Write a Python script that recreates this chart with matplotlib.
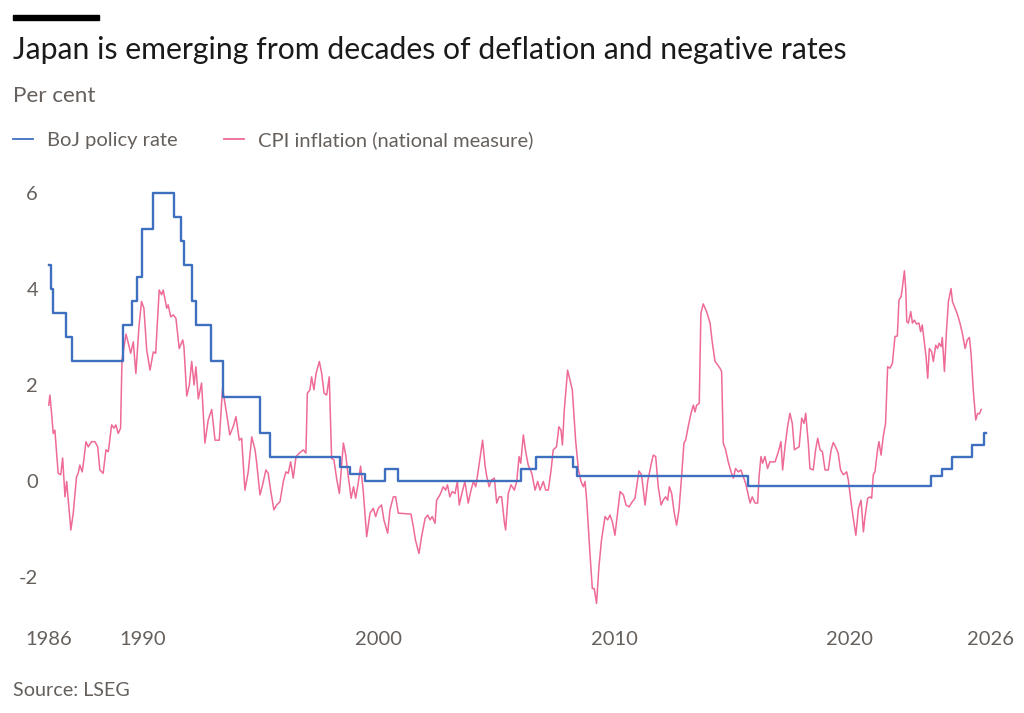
import matplotlib
matplotlib.use("Agg")
import matplotlib.pyplot as plt
from matplotlib.lines import Line2D
from matplotlib.patches import Rectangle


# ============================================================
#  データ
# ============================================================
# BoJ 政策金利：変更した時点と水準（ステップ）
rate_year = [1986.00, 1986.08, 1986.17, 1986.73, 1986.97, 1989.14, 1989.55, 1989.76,
             1989.98, 1990.44, 1991.33, 1991.60, 1991.75, 1992.08, 1992.25, 1992.87,
             1993.41, 1994.97, 1995.39, 1998.37, 1998.77, 1999.43, 2000.28, 2000.83,
             2006.05, 2006.69, 2008.28, 2008.45, 2015.70, 2023.46, 2023.93, 2024.35,
             2025.20, 2025.72, 2025.78]
rate_value = [4.5, 4.0, 3.5, 3.0, 2.5, 3.25, 3.75, 4.25,
              5.25, 6.0, 5.5, 5.0, 4.5, 3.75, 3.25, 2.5,
              1.75, 1.0, 0.5, 0.3, 0.15, 0.0, 0.25, 0.0,
              0.25, 0.5, 0.3, 0.1, -0.1, 0.1, 0.25, 0.5,
              0.75, 1.0, 1.0]

# CPI インフレ率（全国）
cpi_year = [
    1986.00, 1986.05, 1986.12, 1986.19, 1986.26, 1986.40, 1986.51, 1986.59, 1986.69, 1986.76, 1986.83, 1986.94,
    1987.04, 1987.18, 1987.25, 1987.32, 1987.42, 1987.49, 1987.58, 1987.68, 1987.82, 1987.96,
    1988.08, 1988.17, 1988.31, 1988.43, 1988.53, 1988.67, 1988.77, 1988.85, 1988.95,
    1989.05, 1989.11, 1989.28, 1989.38, 1989.48, 1989.59, 1989.70, 1989.83, 1989.94,
    1990.04, 1990.16, 1990.30, 1990.44, 1990.54, 1990.62, 1990.69, 1990.79, 1990.86,
    1991.01, 1991.07, 1991.18, 1991.29, 1991.40, 1991.54, 1991.69, 1991.74, 1991.86, 1991.97,
    1992.07, 1992.17, 1992.25, 1992.35, 1992.49, 1992.63, 1992.77, 1992.92,
    1993.06, 1993.24, 1993.38, 1993.55, 1993.69, 1993.83, 1993.95,
    1994.09, 1994.19, 1994.33, 1994.47, 1994.62, 1994.76, 1994.83, 1994.97,
    1995.08, 1995.22, 1995.32, 1995.42, 1995.56, 1995.68, 1995.82, 1995.96,
    1996.07, 1996.17, 1996.27, 1996.38, 1996.50, 1996.64, 1996.81, 1996.92, 1996.98,
    1997.09, 1997.16, 1997.26, 1997.35, 1997.49, 1997.59, 1997.69, 1997.80, 1997.91,
    1998.01, 1998.11, 1998.22, 1998.34, 1998.44, 1998.51, 1998.61, 1998.72, 1998.84, 1998.94,
    1999.03, 1999.14, 1999.24, 1999.35, 1999.50, 1999.64, 1999.78, 1999.88, 1999.99,
    2000.13, 2000.23, 2000.39, 2000.49, 2000.63, 2000.73, 2000.84,
    2001.38, 2001.48, 2001.57, 2001.72, 2001.83, 2001.98,
    2002.09, 2002.19, 2002.28, 2002.40, 2002.47, 2002.61, 2002.75, 2002.85, 2002.93,
    2003.03, 2003.13, 2003.25, 2003.35, 2003.43, 2003.56, 2003.67, 2003.81, 2003.93,
    2004.03, 2004.13, 2004.24, 2004.34, 2004.42, 2004.53, 2004.60, 2004.70, 2004.80, 2004.92,
    2005.02, 2005.12, 2005.23, 2005.35, 2005.40, 2005.51, 2005.63, 2005.77, 2005.87, 2005.97,
    2006.04, 2006.15, 2006.25, 2006.36, 2006.51, 2006.65, 2006.76, 2006.86,
    2007.00, 2007.10, 2007.21, 2007.33, 2007.42, 2007.56, 2007.66, 2007.75, 2007.81, 2007.89,
    2008.03, 2008.13, 2008.23, 2008.37, 2008.49, 2008.60, 2008.70, 2008.77, 2008.84, 2008.98,
    2009.08, 2009.16, 2009.26, 2009.36, 2009.47, 2009.62, 2009.73, 2009.83, 2009.93,
    2010.04, 2010.15, 2010.26, 2010.40, 2010.51, 2010.64, 2010.78, 2010.89, 2010.98,
    2011.06, 2011.17, 2011.32, 2011.43, 2011.60, 2011.67, 2011.77, 2011.88,
    2012.00, 2012.09, 2012.19, 2012.28, 2012.35, 2012.45, 2012.56, 2012.66, 2012.76, 2012.87, 2012.97,
    2013.04, 2013.15, 2013.27, 2013.37, 2013.44, 2013.51, 2013.62, 2013.69, 2013.79, 2013.93,
    2014.08, 2014.17, 2014.29, 2014.40, 2014.50, 2014.57, 2014.64, 2014.74, 2014.85, 2014.97,
    2015.07, 2015.16, 2015.28, 2015.39, 2015.49, 2015.59, 2015.70, 2015.78, 2015.87, 2015.99,
    2016.10, 2016.16, 2016.24, 2016.31, 2016.41, 2016.52, 2016.62, 2016.84, 2016.98,
    2017.09, 2017.16, 2017.26, 2017.37, 2017.47, 2017.57, 2017.66, 2017.75, 2017.86, 2017.97,
    2018.07, 2018.14, 2018.25, 2018.32, 2018.46, 2018.56, 2018.65, 2018.75, 2018.85, 2018.96,
    2019.10, 2019.22, 2019.31, 2019.41, 2019.52, 2019.62, 2019.74, 2019.88, 2019.95,
    2020.07, 2020.17, 2020.27, 2020.38, 2020.49, 2020.59, 2020.66, 2020.77, 2020.87, 2020.94,
    2021.01, 2021.08, 2021.19, 2021.25, 2021.34, 2021.43, 2021.53, 2021.62, 2021.72, 2021.82, 2021.93,
    2022.03, 2022.10, 2022.19, 2022.24, 2022.33, 2022.39, 2022.43, 2022.50, 2022.60, 2022.67, 2022.75, 2022.85, 2022.95,
    2023.02, 2023.09, 2023.18, 2023.25, 2023.32, 2023.39, 2023.49, 2023.56, 2023.66, 2023.74, 2023.80, 2023.89, 2023.94,
    2024.03, 2024.12, 2024.20, 2024.31, 2024.37, 2024.48, 2024.59, 2024.69, 2024.79, 2024.91,
    2025.00, 2025.09, 2025.16, 2025.26, 2025.36, 2025.44, 2025.52, 2025.59,
]
cpi_value = [
    1.58, 1.79, 1.41, 0.99, 1.06, 0.16, 0.13, 0.48, -0.33, -0.01, -0.40, -1.02,
    -0.67, 0.09, 0.16, 0.33, 0.19, 0.44, 0.82, 0.71, 0.82, 0.82,
    0.71, 0.23, 0.16, 0.65, 0.61, 1.17, 1.10, 1.17, 0.99,
    1.10, 2.52, 3.06, 2.87, 2.66, 2.90, 2.24, 3.21, 3.74,
    3.60, 2.73, 2.31, 2.69, 2.66, 3.35, 3.98, 3.88, 3.98,
    3.60, 3.67, 3.42, 3.46, 3.39, 2.76, 2.94, 2.80, 1.77, 2.00,
    2.49, 2.00, 2.38, 1.71, 2.04, 0.79, 1.27, 1.49,
    0.85, 0.85, 1.93, 1.41, 0.96, 1.13, 1.34,
    0.85, 0.89, -0.19, 0.19, 0.92, 0.65, 0.37, -0.29,
    -0.08, 0.23, 0.16, -0.19, -0.60, -0.50, -0.43, -0.01,
    0.19, 0.16, 0.40, 0.06, 0.51, 0.58, 0.65, 0.58, 1.83,
    1.90, 2.17, 1.90, 2.24, 2.49, 2.24, 1.83, 1.79, 2.17,
    0.47, 0.44, 0.06, -0.26, 0.37, 0.79, 0.54, 0.09, -0.36, -0.12,
    -0.36, -0.05, 0.31, -0.19, -1.16, -0.67, -0.57, -0.74, -0.57,
    -0.50, -0.81, -1.09, -0.60, -0.33, -0.33, -0.67,
    -0.69, -0.95, -1.23, -1.51, -1.16, -0.78,
    -0.71, -0.81, -0.74, -0.88, -0.40, -0.29, -0.12, -0.19, -0.08,
    -0.33, -0.22, -0.26, -0.01, -0.50, -0.22, -0.01, -0.46, -0.19,
    -0.01, -0.12, 0.23, 0.58, 0.85, 0.30, 0.09, -0.12, 0.02, 0.06,
    -0.46, -0.33, -0.33, -0.88, -1.02, -0.26, -0.08, -0.19, -0.01, 0.51,
    0.37, 0.96, 0.61, 0.33, 0.16, -0.19, -0.01, -0.19,
    -0.01, -0.19, -0.19, 0.23, 0.65, 0.71, 1.13, 1.06, 0.75, 1.48,
    2.31, 2.10, 1.90, 0.85, 0.23, -0.01, -0.12, -0.01, -0.40, -1.51,
    -2.24, -2.24, -2.55, -1.79, -1.23, -0.74, -0.81, -0.71, -0.85,
    -1.13, -0.67, -0.22, -0.29, -0.50, -0.54, -0.43, -0.36, -0.05,
    0.21, 0.13, -0.50, -0.01, 0.40, 0.54, 0.51, -0.12,
    -0.50, -0.40, -0.33, -0.40, -0.12, -0.26, -0.67, -0.92, -0.60, 0.09, 0.79,
    0.85, 1.13, 1.41, 1.58, 1.44, 1.58, 1.62, 3.49, 3.69, 3.53,
    3.29, 2.90, 2.49, 2.42, 2.35, 2.28, 0.79, 0.65, 0.40, 0.19,
    0.06, 0.26, 0.19, 0.23, 0.09, -0.05, -0.29, -0.46, -0.33, -0.46,
    -0.46, 0.09, 0.51, 0.37, 0.51, 0.26, 0.40, 0.40, 0.61,
    0.82, 0.23, 0.71, 1.13, 1.41, 1.20, 0.65, 0.68, 0.71, 1.31,
    1.20, 1.41, 0.79, 0.26, 0.23, 0.65, 0.89, 0.65, 0.61, 0.23,
    0.23, 0.65, 0.80, 0.71, 0.58, 0.23, 0.13, 0.19, 0.02,
    -0.46, -0.81, -1.13, -0.57, -0.40, -1.06, -0.74, -0.36, -0.33, -0.36,
    0.13, 0.19, 0.65, 0.82, 0.54, 0.92, 1.20, 2.38, 2.35, 2.45, 3.01,
    3.02, 3.77, 3.84, 4.01, 4.38, 3.98, 3.32, 3.29, 3.53, 3.29, 3.35, 3.27, 3.29,
    3.11, 3.25, 2.87, 2.59, 2.14, 2.76, 2.69, 2.49, 2.83, 2.76, 2.87, 2.80, 2.99,
    2.28, 3.15, 3.74, 4.01, 3.74, 3.60, 3.46, 3.29, 3.08, 2.76,
    2.94, 2.99, 2.66, 1.86, 1.27, 1.41, 1.40, 1.49,
]
assert len(cpi_year) == len(cpi_value)

x_ticks = [1986, 1990, 2000, 2010, 2020, 2026]
y_ticks = [-2, 0, 2, 4, 6]

TITLE = "Japan is emerging from decades of deflation and negative rates"
SUBTITLE = "Per cent"
SOURCE = "Source: LSEG"
LABELS = ["BoJ policy rate", "CPI inflation (national measure)"]

BLUE = "#3f70c0"
PINK = "#ee6a98"
GREY = "#66605c"

plt.rcParams["font.family"] = ["Lato", "DejaVu Sans"]

# ============================================================
#  描画
# ============================================================
fig = plt.figure(figsize=(10.24, 7.13), dpi=100)
ax = fig.add_axes([0.0453, 0.1369, 0.9223, 0.6126])

ax.plot(cpi_year, cpi_value, color=PINK, lw=1.1, zorder=2)
ax.step(rate_year, rate_value, where="post", color=BLUE, lw=1.7, zorder=3)

ax.set_xlim(1985.9, 2026.0)
ax.set_ylim(-2.8, 6.3)
ax.set_xticks(x_ticks)
ax.set_xticklabels([str(t) for t in x_ticks])
ax.set_yticks(y_ticks)
ax.set_yticklabels([str(t) for t in y_ticks])
ax.tick_params(axis="both", length=0, labelsize=14.5, labelcolor=GREY)
ax.tick_params(axis="x", pad=11)
ax.tick_params(axis="y", pad=6)
for s in ax.spines.values():
    s.set_visible(False)

# 左上の黒いバー
fig.patches.append(Rectangle((13/1024, 1 - 20/713), 86/1024, 5/713,
                             transform=fig.transFigure, color="black"))

fig.text(13/1024, 1 - 50/713, TITLE, fontsize=21.7, color="#1a1a1a", va="center")
fig.text(13/1024, 1 - 96/713, SUBTITLE, fontsize=16.2, color=GREY, va="center")
fig.text(13/1024, 1 - 690/713, SOURCE, fontsize=14.2, color=GREY, va="center")

handles = [Line2D([], [], color=BLUE, lw=1.3), Line2D([], [], color=PINK, lw=1.3)]
fig.legend(handles, LABELS, loc="center left", bbox_to_anchor=(13/1024, 1 - 140/713),
           ncol=2, frameon=False, fontsize=14.5, labelcolor=GREY,
           handlelength=1.0, handletextpad=0.7, columnspacing=2.3,
           borderpad=0, borderaxespad=0)

fig.savefig("out.png", dpi=100, facecolor="white")
